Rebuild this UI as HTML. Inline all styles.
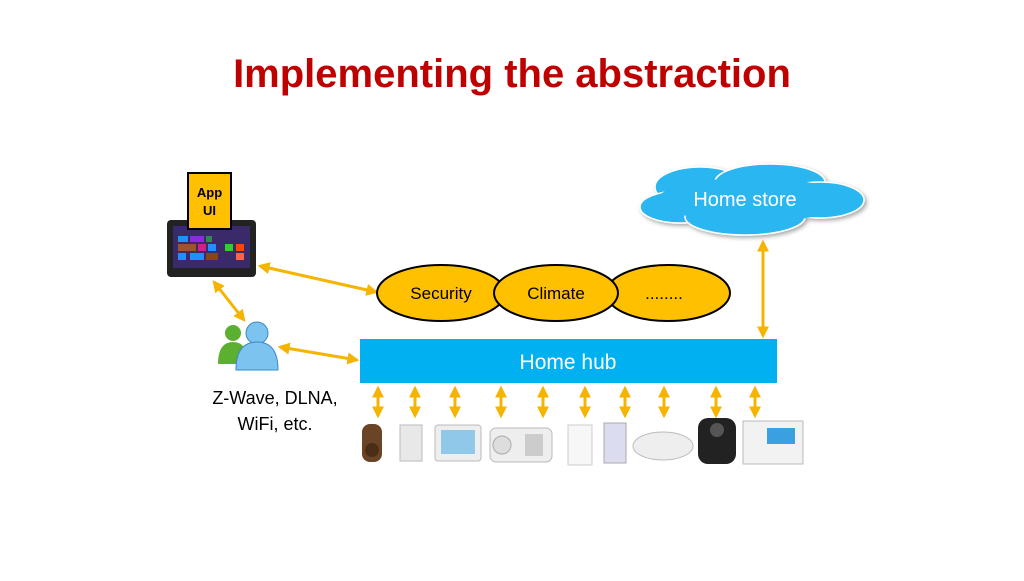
<!DOCTYPE html>
<html><head><meta charset="utf-8"><style>
body{margin:0;background:#fff;width:1024px;height:576px;overflow:hidden;font-family:"Liberation Sans",sans-serif}
</style></head><body>
<svg width="1024" height="576" viewBox="0 0 1024 576" xmlns="http://www.w3.org/2000/svg">
<defs>
<marker id="a" viewBox="0 0 10 10" refX="8" refY="5" markerWidth="4" markerHeight="4" orient="auto-start-reverse"><path d="M0,0L10,5L0,10z" fill="#f5b400"/></marker>
<filter id="sh"><feDropShadow dx="2" dy="2" stdDeviation="2" flood-opacity="0.35"/></filter>
</defs>
<text x="512" y="87" text-anchor="middle" font-size="40" font-weight="bold" fill="#c00000">Implementing the abstraction</text>

<!-- tablet -->
<rect x="167" y="220" width="89" height="57" rx="4" fill="#222"/>
<rect x="173" y="226" width="77" height="42" fill="#3a2a6a"/>
<rect x="178" y="236" width="10" height="6" fill="#1e90ff"/><rect x="190" y="236" width="14" height="6" fill="#8a2be2"/><rect x="206" y="236" width="6" height="6" fill="#2e8b57"/>
<rect x="178" y="244" width="18" height="7" fill="#a0522d"/><rect x="198" y="244" width="8" height="7" fill="#d02090"/><rect x="208" y="244" width="8" height="7" fill="#1e90ff"/><rect x="225" y="244" width="8" height="7" fill="#32cd32"/><rect x="236" y="244" width="8" height="7" fill="#ff4500"/>
<rect x="178" y="253" width="8" height="7" fill="#1e90ff"/><rect x="190" y="253" width="14" height="7" fill="#1e90ff"/><rect x="206" y="253" width="12" height="7" fill="#8b4513"/><rect x="236" y="253" width="8" height="7" fill="#ff6347"/>
<!-- App UI -->
<rect x="188" y="173" width="43" height="56" fill="#ffc000" stroke="#000" stroke-width="2"/>
<text x="209.5" y="197" text-anchor="middle" font-size="13" font-weight="bold">App</text>
<text x="209.5" y="215" text-anchor="middle" font-size="13" font-weight="bold">UI</text>

<!-- people icon -->
<circle cx="233" cy="333" r="8" fill="#5cb030"/><path d="M218,364 q0,-22 15,-22 q15,0 15,22z" fill="#5cb030"/>
<circle cx="257" cy="333" r="11" fill="#7cc4ef" stroke="#3a8ac8"/><path d="M236,370 q0,-28 21,-28 q21,0 21,28z" fill="#7cc4ef" stroke="#3a8ac8"/>

<text x="275" y="404" text-anchor="middle" font-size="18">Z-Wave, DLNA,</text>
<text x="275" y="430" text-anchor="middle" font-size="18">WiFi, etc.</text>

<!-- arrows -->
<g stroke="#f5b400" stroke-width="3" fill="none" marker-start="url(#a)" marker-end="url(#a)">
<line x1="260" y1="266" x2="376" y2="292"/>
<line x1="214" y1="282" x2="244" y2="320"/>
<line x1="280" y1="347" x2="357" y2="360"/>
<line x1="763" y1="242" x2="763" y2="336"/>
<line x1="378" y1="388" x2="378" y2="416"/>
<line x1="415" y1="388" x2="415" y2="416"/>
<line x1="455" y1="388" x2="455" y2="416"/>
<line x1="501" y1="388" x2="501" y2="416"/>
<line x1="543" y1="388" x2="543" y2="416"/>
<line x1="585" y1="388" x2="585" y2="416"/>
<line x1="625" y1="388" x2="625" y2="416"/>
<line x1="664" y1="388" x2="664" y2="416"/>
<line x1="716" y1="388" x2="716" y2="416"/>
<line x1="755" y1="388" x2="755" y2="416"/>
</g>

<!-- ellipses -->
<ellipse cx="668" cy="293" rx="62" ry="28" fill="#ffc000" stroke="#000" stroke-width="2"/>
<ellipse cx="441" cy="293" rx="64" ry="28" fill="#ffc000" stroke="#000" stroke-width="2"/>
<ellipse cx="556" cy="293" rx="62" ry="28" fill="#ffc000" stroke="#000" stroke-width="2"/>
<text x="441" y="299" text-anchor="middle" font-size="17">Security</text>
<text x="556" y="299" text-anchor="middle" font-size="17">Climate</text>
<text x="664" y="299" text-anchor="middle" font-size="17">........</text>

<!-- hub -->
<rect x="360" y="339" width="417" height="44" fill="#00b0f0"/>
<text x="568" y="369" text-anchor="middle" font-size="21" fill="#fff">Home hub</text>

<!-- cloud -->
<g filter="url(#sh)" fill="#29b6f0" stroke="#fff" stroke-width="1.5">
<ellipse cx="700" cy="187" rx="45" ry="20"/>
<ellipse cx="770" cy="182" rx="55" ry="18"/>
<ellipse cx="820" cy="200" rx="44" ry="18"/>
<ellipse cx="680" cy="207" rx="40" ry="16"/>
<ellipse cx="745" cy="217" rx="60" ry="18"/>
<ellipse cx="752" cy="200" rx="95" ry="22" stroke="none"/>
</g>
<text x="745" y="206" text-anchor="middle" font-size="20" fill="#fff">Home store</text>

<!-- devices -->
<rect x="362" y="424" width="20" height="38" rx="8" fill="#6b4426"/><circle cx="372" cy="450" r="7" fill="#4a2e18"/>
<rect x="400" y="425" width="22" height="36" fill="#e8e8e8" stroke="#bbb"/>
<rect x="435" y="425" width="46" height="36" rx="3" fill="#eee" stroke="#bbb"/><rect x="441" y="430" width="34" height="24" fill="#8fc8e8"/>
<rect x="490" y="428" width="62" height="34" rx="6" fill="#eee" stroke="#bbb"/><circle cx="502" cy="445" r="9" fill="#ddd" stroke="#aaa"/><rect x="525" y="434" width="18" height="22" fill="#ccc"/>
<rect x="568" y="425" width="24" height="40" fill="#f7f7f7" stroke="#ccc"/>
<rect x="604" y="423" width="22" height="40" fill="#dcdcf0" stroke="#aaa"/>
<ellipse cx="663" cy="446" rx="30" ry="14" fill="#eee" stroke="#bbb"/>
<rect x="698" y="418" width="38" height="46" rx="10" fill="#222"/><circle cx="717" cy="430" r="7" fill="#555"/>
<rect x="743" y="421" width="60" height="43" fill="#f2f2f2" stroke="#bbb"/><rect x="767" y="428" width="28" height="16" fill="#3aa0e0"/>
</svg>
</body></html>
